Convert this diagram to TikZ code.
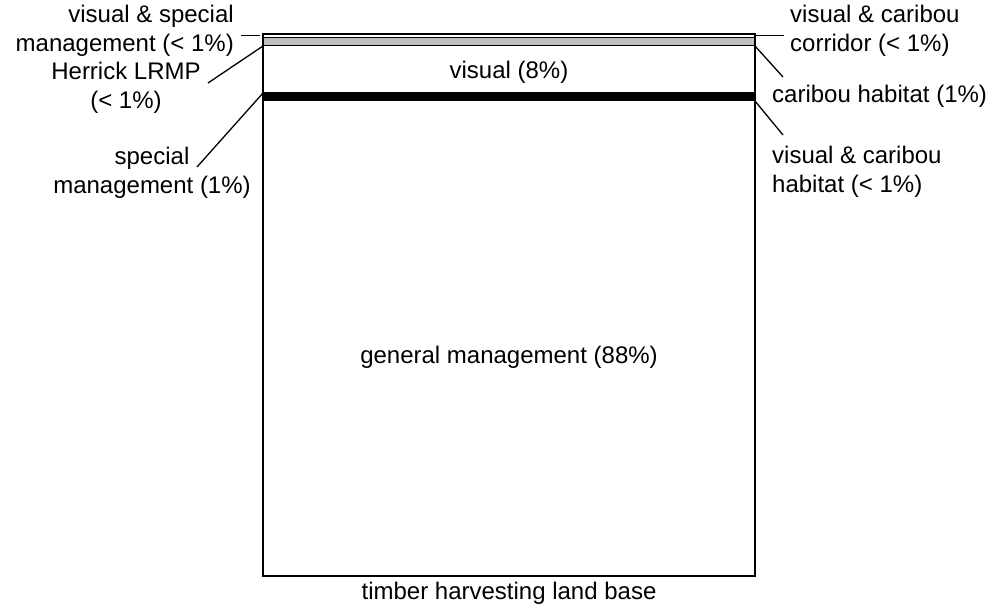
\documentclass[tikz,border=0pt]{standalone}
\usepackage{fontspec}
\setmainfont{Liberation Sans}
\begin{document}
\begin{tikzpicture}[x=1pt,y=-1pt,
  lbl/.style={font=\fontsize{24}{28.5}\selectfont, inner sep=0pt},
  lead/.style={line width=1.3pt, black},
  frame/.style={line width=1.8pt, black}]
\useasboundingbox (0,0) rectangle (995,608);
% bands
\fill[black!25] (263,37.5) rectangle (755,45.5);
\fill[black] (263,92) rectangle (755,101);
\draw[line width=1pt] (263,37.5) -- (755,37.5);
\draw[line width=1.3pt] (263,45.5) -- (755,45.5);
\draw[frame] (263,34) rectangle (755,576);
% anchor coordinates on the box
\coordinate (lt) at (260,35.5);
\coordinate (lg) at (263,46);
\coordinate (lb) at (263,93);
\coordinate (rt) at (755,35.5);
\coordinate (rg) at (755,46);
\coordinate (rb) at (755,101);
% labels
\node[lbl, anchor=east, align=right] (vsm) at (234,31) {visual \& special\\management (< 1\%)};
\node[lbl, align=center] (her) at (126,88) {Herrick LRMP\\(< 1\%)};
\node[lbl, align=center] (spm) at (152,173) {special\\management (1\%)};
\node[lbl, anchor=west, align=left] (vcc) at (790,31) {visual \& caribou\\corridor (< 1\%)};
\node[lbl, anchor=west] (ch) at (772,96) {caribou habitat (1\%)};
\node[lbl, anchor=west, align=left] (vch) at (772,172) {visual \& caribou\\habitat (< 1\%)};
\node[lbl] (vis) at (509,72) {visual (8\%)};
\node[lbl] (gen) at (509,357) {general management (88\%)};
\node[lbl] (thl) at (509,593) {timber harvesting land base};
% leaders
\coordinate (vsmE) at (241,35.5);
\coordinate (herE) at (208,83);
\coordinate (spmE) at (197,167);
\coordinate (vccE) at (784,35.5);
\coordinate (chE) at (783,77);
\coordinate (vchE) at (783,135);
\draw[lead] (vsmE) -- (lt);
\draw[lead] (herE) -- (lg);
\draw[lead] (spmE) -- (lb);
\draw[lead] (rt) -- (vccE);
\draw[lead] (rg) -- (chE);
\draw[lead] (rb) -- (vchE);
\end{tikzpicture}
\end{document}
